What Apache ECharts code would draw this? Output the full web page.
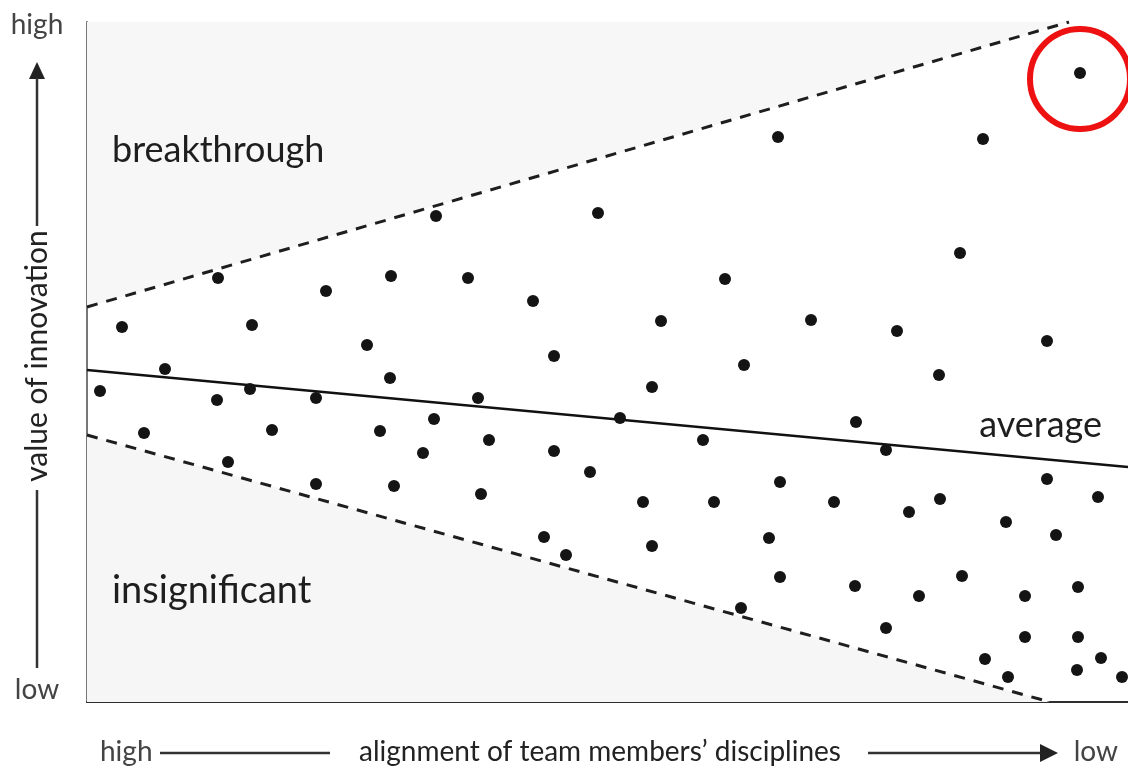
<!DOCTYPE html>
<html>
<head>
<meta charset="utf-8">
<script src="https://cdn.jsdelivr.net/npm/echarts@6/dist/echarts.min.js"></script>
<style>
html,body{margin:0;padding:0;background:#fff;}
#chart{width:1128px;height:773px;}
</style>
</head>
<body>
<div id="chart"></div>
<script>
// Values (x: alignment axis, y: value of innovation; arbitrary units)
var points = [
  [993,629],[691,565],[896,563],[349,486],[511,489],[873,449],[131,424],[304,426],
  [381,424],[638,423],[239,411],[446,401],[35,375],[165,377],[574,381],[724,382],
  [810,371],[280,357],[960,361],[467,346],[657,337],[78,333],[303,324],[852,327],
  [565,315],[13,311],[163,313],[130,302],[229,304],[391,304],[347,283],[533,284],
  [769,280],[57,269],[185,272],[293,271],[402,262],[616,262],[336,249],[467,251],
  [799,252],[141,240],[503,230],[960,223],[229,218],[307,216],[693,220],[394,208],
  [556,200],[627,200],[747,200],[853,203],[1011,205],[822,190],[919,180],[457,165],
  [682,164],[969,167],[565,156],[479,147],[693,125],[875,126],[768,116],[991,115],
  [832,106],[938,106],[654,94],[799,74],[938,65],[991,65],[898,43],[1014,44],
  [990,32],[921,25],[1035,25]
];
var highlighted = [[993,629]];
var averageLine = [[0,332],[1041,235]];
var upperBound = [[0,395],[982,680]];
var lowerBound = [[0,267],[963,0]];
var regionLabels = ['breakthrough','average','insignificant'];
var yAxisTitle = 'value of innovation';
var xAxisTitle = 'alignment of team members\u2019 disciplines';
var axisEnds = ['high','low'];

var FONT = 'Lato, "Liberation Sans", sans-serif';
var chart = echarts.init(document.getElementById('chart'), null, {renderer:'canvas'});
var option = {
  animation:false,
  backgroundColor:'#ffffff',
  grid:{left:87, right:0, top:22, bottom:71, containLabel:false},
  xAxis:{type:'value', min:0, max:1041, axisTick:{show:false}, axisLabel:{show:false}, splitLine:{show:false},
    axisLine:{show:true, lineStyle:{color:'#2e2e2e', width:2}}},
  yAxis:{type:'value', min:0, max:680, axisTick:{show:false}, axisLabel:{show:false}, splitLine:{show:false},
    axisLine:{show:true, lineStyle:{color:'#777777', width:2}}},
  series:[
    {type:'line', data:upperBound, symbol:'none', silent:true, z:1,
      lineStyle:{color:'#1e1e1e', width:3, type:[11,9]},
      areaStyle:{color:'#f7f7f7', origin:'end', opacity:1}},
    {type:'line', data:lowerBound, symbol:'none', silent:true, z:1,
      lineStyle:{color:'#1e1e1e', width:3, type:[11,9]},
      areaStyle:{color:'#f6f6f6', origin:'start', opacity:1}},
    {type:'line', data:averageLine, symbol:'none', silent:true, z:2,
      lineStyle:{color:'#111111', width:2.5}},
    {type:'scatter', data:points, symbol:'circle', symbolSize:12, z:5,
      itemStyle:{color:'#141414', opacity:1}},
    {type:'scatter', data:highlighted, symbol:'circle', symbolSize:100, symbolOffset:[0,6], z:6,
      itemStyle:{color:'rgba(0,0,0,0)', borderColor:'#ee1111', borderWidth:6, opacity:1}}
  ],
  graphic:[
    {type:'text', z:100, x:112, y:150, style:{text:regionLabels[0], font:'36px '+FONT, fill:'#1e1e1e', textAlign:'left', textVerticalAlign:'middle'}},
    {type:'text', z:100, x:1102, y:425, style:{text:regionLabels[1], font:'36px '+FONT, fill:'#1e1e1e', textAlign:'right', textVerticalAlign:'middle'}},
    {type:'text', z:100, x:112, y:591, style:{text:regionLabels[2], font:'38px '+FONT, fill:'#1e1e1e', textAlign:'left', textVerticalAlign:'middle'}},
    // y axis annotation
    {type:'text', z:100, x:37, y:25, style:{text:axisEnds[0], font:'28px '+FONT, fill:'#444', textAlign:'center', textVerticalAlign:'middle'}},
    {type:'text', z:100, x:37, y:690, style:{text:axisEnds[1], font:'28px '+FONT, fill:'#444', textAlign:'center', textVerticalAlign:'middle'}},
    {type:'polygon', z:100, shape:{points:[[37,62],[29,79],[45,79]]}, style:{fill:'#222'}},
    {type:'line', z:100, shape:{x1:37,y1:78,x2:37,y2:226}, style:{stroke:'#333', lineWidth:2.5}},
    {type:'line', z:100, shape:{x1:37,y1:490,x2:37,y2:668}, style:{stroke:'#333', lineWidth:2.5}},
    {type:'text', z:100, x:37, y:356, rotation:Math.PI/2, style:{text:yAxisTitle, font:'30px '+FONT, fill:'#222', textAlign:'center', textVerticalAlign:'middle'}},
    // x axis annotation
    {type:'text', z:100, x:100, y:752, style:{text:axisEnds[0], font:'28px '+FONT, fill:'#444', textAlign:'left', textVerticalAlign:'middle'}},
    {type:'line', z:100, shape:{x1:160,y1:753,x2:330,y2:753}, style:{stroke:'#333', lineWidth:2.5}},
    {type:'text', z:100, x:600, y:752, style:{text:xAxisTitle, font:'28px '+FONT, fill:'#222', textAlign:'center', textVerticalAlign:'middle'}},
    {type:'line', z:100, shape:{x1:868,y1:753,x2:1042,y2:753}, style:{stroke:'#333', lineWidth:2.5}},
    {type:'polygon', z:100, shape:{points:[[1058,753],[1040,744],[1040,762]]}, style:{fill:'#222'}},
    {type:'text', z:100, x:1118, y:752, style:{text:axisEnds[1], font:'28px '+FONT, fill:'#444', textAlign:'right', textVerticalAlign:'middle'}}
  ]
};
chart.setOption(option);
</script>
</body>
</html>
